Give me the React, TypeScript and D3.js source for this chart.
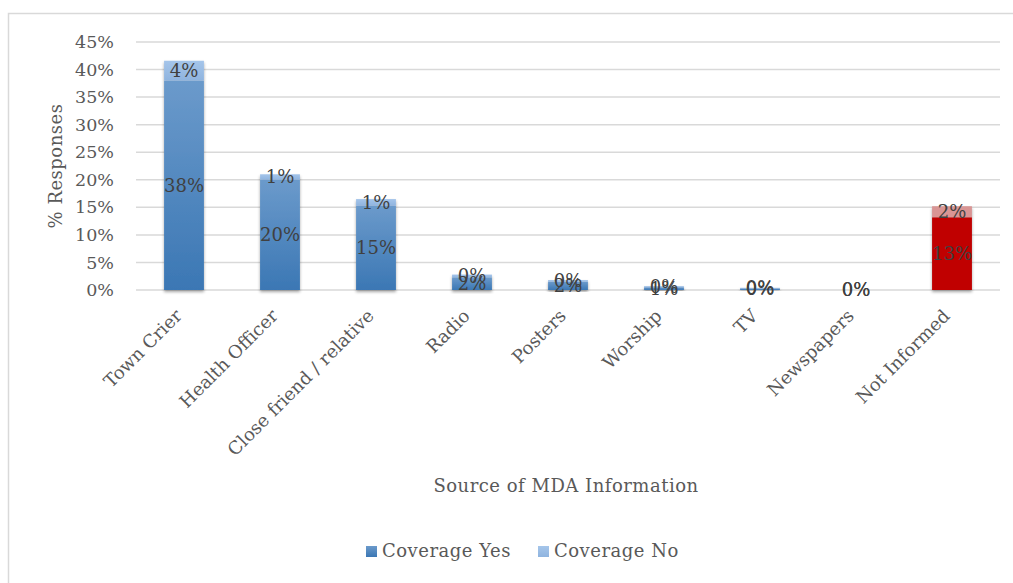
import React, { useEffect, useRef } from "react";
import * as d3 from "d3";

const categories = ["Town Crier", "Health Officer", "Close friend / relative", "Radio", "Posters", "Worship", "TV", "Newspapers", "Not Informed"];
const coverageYes = [38, 20, 15.3, 2.3, 1.5, 0.5, 0.3, 0, 13.2];
const coverageNo = [3.6, 1.0, 1.2, 0.5, 0.3, 0.2, 0.1, 0, 2.0];
const yesLabels = ["38%", "20%", "15%", "2%", "2%", "1%", "0%", "0%", "13%"];
const noLabels = ["4%", "1%", "1%", "0%", "0%", "0%", "0%", "0%", "2%"];
const yTicks = [0, 5, 10, 15, 20, 25, 30, 35, 40, 45];
const seriesNames = ["Coverage Yes", "Coverage No"];

const W = 1013, H = 583;
const FONT = "'DejaVu Serif', 'Liberation Serif', serif";
const FS = 17.5;
const FSW = 18;

export default function App() {
  const ref = useRef<SVGSVGElement>(null);
  useEffect(() => {
    const svg = d3.select(ref.current);
    svg.selectAll("*").remove();

    const defs = svg.append("defs");
    const g1 = defs.append("linearGradient").attr("id", "gYes").attr("x1", 0).attr("y1", 0).attr("x2", 0).attr("y2", 1);
    g1.append("stop").attr("offset", "0%").attr("stop-color", "#6b9acb");
    g1.append("stop").attr("offset", "100%").attr("stop-color", "#3b77b4");
    const g2 = defs.append("linearGradient").attr("id", "gNo").attr("x1", 0).attr("y1", 0).attr("x2", 0).attr("y2", 1);
    g2.append("stop").attr("offset", "0%").attr("stop-color", "#a5c5ea");
    g2.append("stop").attr("offset", "100%").attr("stop-color", "#8fb4df");
    const f = defs.append("filter").attr("id", "shadow").attr("x", "-20%").attr("y", "-20%").attr("width", "140%").attr("height", "140%");
    f.append("feDropShadow").attr("dx", 0).attr("dy", 2).attr("stdDeviation", 1.5).attr("flood-color", "#000").attr("flood-opacity", 0.35);

    // chart border
    svg.append("rect").attr("x", 8.5).attr("y", 13.5).attr("width", W + 10).attr("height", H + 10)
      .attr("fill", "#fff").attr("stroke", "#d9d9d9").attr("stroke-width", 1.5);

    const left = 136, right = 1000, top = 42, bottom = 290;
    const x = d3.scaleBand().domain(categories).range([left, right]).paddingInner(0.585).paddingOuter(0.2925);
    const y = d3.scaleLinear().domain([0, 45]).range([bottom, top]);

    // gridlines
    svg.append("g").selectAll("line").data(yTicks).join("line")
      .attr("x1", left).attr("x2", right)
      .attr("y1", (d) => y(d)).attr("y2", (d) => y(d))
      .attr("stroke", "#d9d9d9").attr("stroke-width", 1.5);

    // y tick labels
    svg.append("g").selectAll("text").data(yTicks).join("text")
      .attr("x", 114).attr("y", (d) => y(d)).attr("dy", "0.35em")
      .attr("text-anchor", "end").attr("font-family", FONT).attr("font-size", FS).attr("fill", "#595959")
      .text((d) => `${d}%`);

    // bars
    const bars = svg.append("g");
    categories.forEach((c, i) => {
      const bx = x(c)!;
      const bw = x.bandwidth();
      const yes = coverageYes[i], no = coverageNo[i];
      const red = c === "Not Informed";
      const grp = bars.append("g").attr("filter", "url(#shadow)");
      grp.append("rect").attr("x", bx).attr("width", bw)
        .attr("y", y(yes)).attr("height", y(0) - y(yes))
        .attr("fill", red ? "#c00000" : "url(#gYes)");
      grp.append("rect").attr("x", bx).attr("width", bw)
        .attr("y", y(yes + no)).attr("height", y(yes) - y(yes + no))
        .attr("fill", red ? "#d99594" : "url(#gNo)");
    });

    // data labels
    const lbl = svg.append("g").attr("font-family", FONT).attr("font-size", FSW).attr("fill", "#404040").attr("text-anchor", "middle");
    categories.forEach((c, i) => {
      const cx = x(c)! + x.bandwidth() / 2;
      const yes = coverageYes[i], no = coverageNo[i];
      lbl.append("text").attr("x", cx).attr("y", (y(0) + y(yes)) / 2).attr("dy", "0.35em").text(yesLabels[i]);
      lbl.append("text").attr("x", cx).attr("y", (y(yes) + y(yes + no)) / 2).attr("dy", "0.35em").text(noLabels[i]);
    });

    // category labels
    svg.append("g").selectAll("text").data(categories).join("text")
      .attr("transform", (d) => `translate(${x(d)! + x.bandwidth() / 2 - 1},${317}) rotate(-45)`)
      .attr("text-anchor", "end").attr("font-family", FONT).attr("font-size", FSW).attr("fill", "#595959")
      .text((d) => d);

    // axis titles
    svg.append("text").attr("transform", `translate(56,${166}) rotate(-90)`)
      .attr("text-anchor", "middle").attr("dy", "0.35em").attr("font-family", FONT).attr("font-size", FSW)
      .attr("letter-spacing", 0.5).attr("fill", "#595959")
      .text("% Responses");
    svg.append("text").attr("x", 566).attr("y", 486).attr("dy", "0.35em")
      .attr("text-anchor", "middle").attr("font-family", FONT).attr("font-size", FSW)
      .attr("letter-spacing", 0.5).attr("fill", "#595959")
      .text("Source of MDA Information");

    // legend
    const leg = svg.append("g");
    const legX = [366, 538];
    seriesNames.forEach((s, i) => {
      leg.append("rect").attr("x", legX[i]).attr("y", 546).attr("width", 11).attr("height", 11)
        .attr("fill", i === 0 ? "url(#gYes)" : "url(#gNo)");
      leg.append("text").attr("x", legX[i] + 16).attr("y", 551).attr("dy", "0.35em")
        .attr("font-family", FONT).attr("font-size", FSW).attr("letter-spacing", 0.5).attr("fill", "#595959").text(s);
    });
  }, []);
  return (
    <svg ref={ref} width={W} height={H} style={{ position: "absolute", left: 0, top: 0, background: "#fff" }} />
  );
}
